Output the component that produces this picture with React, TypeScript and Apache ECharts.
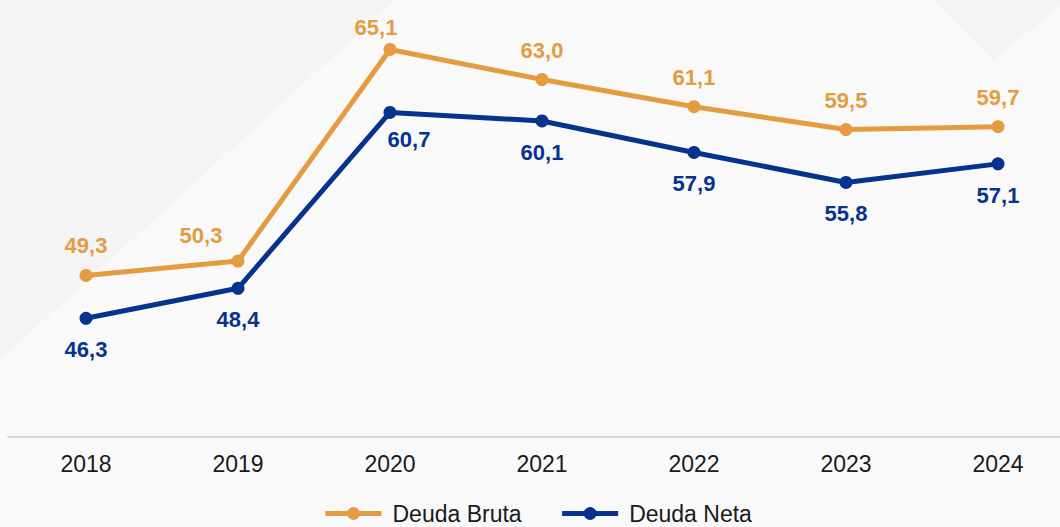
import React, { useEffect, useRef } from "react";
import * as echarts from "echarts";

const years = ["2018", "2019", "2020", "2021", "2022", "2023", "2024"];
const deudaBruta = [49.3, 50.3, 65.1, 63.0, 61.1, 59.5, 59.7];
const deudaNeta = [46.3, 48.4, 60.7, 60.1, 57.9, 55.8, 57.1];

const ORANGE = "#E49C42";
const BLUE = "#06338E";
const FONT = "Liberation Sans, Arial, sans-serif";

const fmt = (v: number) => v.toFixed(1).replace(".", ",");

// label nudges (pixels) for a few points, as in the original layout
const brutaLabelNudge: Record<number, [number, number]> = { 1: [-37, 4], 2: [-14, 8] };
const netaLabelNudge: Record<number, [number, number]> = { 2: [19, -4] };

export default function App() {
  const ref = useRef<HTMLDivElement>(null);
  useEffect(() => {
    if (!ref.current) return;
    const chart = echarts.init(ref.current, null, { renderer: "svg" });
    const mk = (vals: number[], nudge: Record<number, [number, number]>) =>
      vals.map((v, i) =>
        nudge[i] ? { value: v, label: { offset: nudge[i] } } : { value: v }
      );
    chart.setOption({
      animation: false,
      backgroundColor: "#F9F9F9",
      graphic: [
        {
          type: "polygon",
          silent: true,
          z: -10,
          shape: { points: [[0, 0], [395, 0], [0, 360]] },
          style: { fill: "#F4F4F4" },
        },
        {
          type: "polygon",
          silent: true,
          z: -10,
          shape: { points: [[933, 0], [1060, 0], [1060, 6], [993, 60]] },
          style: { fill: "#F4F4F4" },
        },
      ],
      grid: [
        { left: 86, right: 62, top: 8, bottom: 90, containLabel: false },
        { left: 8, right: 0, top: 8, bottom: 90, containLabel: false },
      ],
      xAxis: [
        {
          type: "category",
          gridIndex: 0,
          data: years,
          boundaryGap: false,
          axisLine: { show: false },
          axisTick: { show: false },
          axisLabel: {
            color: "#1A1A1A",
            fontSize: 23,
            fontFamily: FONT,
            margin: 15,
          },
        },
        {
          type: "category",
          gridIndex: 1,
          data: years,
          axisLine: { show: true, lineStyle: { color: "#D9D9D9", width: 2 } },
          axisTick: { show: false },
          axisLabel: { show: false },
        },
      ],
      yAxis: [
        { type: "value", gridIndex: 0, min: 38, max: 68, show: false, splitLine: { show: false } },
        { type: "value", gridIndex: 1, min: 38, max: 68, show: false, splitLine: { show: false } },
      ],
      legend: {
        top: 497,
        left: 318,
        itemWidth: 56,
        itemHeight: 16,
        itemGap: 38,
        lineStyle: { width: 5 },
        textStyle: {
          color: "#1A1A1A",
          fontSize: 23,
          fontFamily: FONT,
          padding: [0, 0, 0, 6],
        },
        data: ["Deuda Bruta", "Deuda Neta"],
      },
      series: [
        {
          name: "Deuda Bruta",
          type: "line",
          data: mk(deudaBruta, brutaLabelNudge),
          symbol: "circle",
          symbolSize: 13,
          itemStyle: { color: ORANGE },
          lineStyle: { color: ORANGE, width: 5 },
          label: {
            show: true,
            position: "top",
            distance: 12,
            color: ORANGE,
            fontSize: 22,
            fontWeight: "bold",
            fontFamily: FONT,
            formatter: (p: any) => fmt(p.value),
          },
        },
        {
          name: "Deuda Neta",
          type: "line",
          data: mk(deudaNeta, netaLabelNudge),
          symbol: "circle",
          symbolSize: 13,
          itemStyle: { color: BLUE },
          lineStyle: { color: BLUE, width: 5 },
          label: {
            show: true,
            position: "bottom",
            distance: 14,
            color: BLUE,
            fontSize: 22,
            fontWeight: "bold",
            fontFamily: FONT,
            formatter: (p: any) => fmt(p.value),
          },
        },
      ],
    });
    return () => chart.dispose();
  }, []);
  return (
    <div
      ref={ref}
      style={{ position: "fixed", left: 0, top: 0, width: 1060, height: 527 }}
    />
  );
}
